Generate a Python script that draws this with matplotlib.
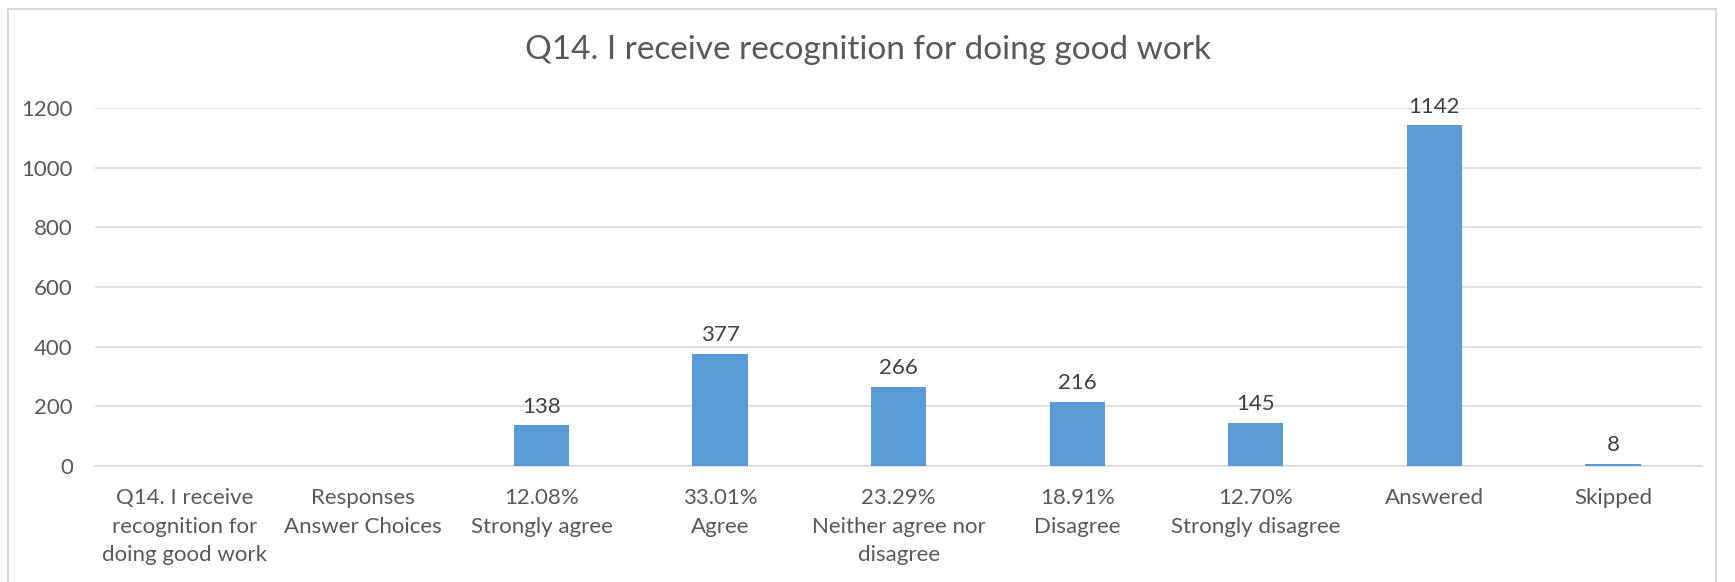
import matplotlib.pyplot as plt
from matplotlib.patches import Rectangle

# Survey results for Q14
title = "Q14. I receive recognition for doing good work"
tick_labels = [
    "Q14. I receive\nrecognition for\ndoing good work",
    "Responses\nAnswer Choices",
    "12.08%\nStrongly agree",
    "33.01%\nAgree",
    "23.29%\nNeither agree nor\ndisagree",
    "18.91%\nDisagree",
    "12.70%\nStrongly disagree",
    "Answered",
    "Skipped",
]
counts = [None, None, 138, 377, 266, 216, 145, 1142, 8]
y_ticks = [0, 200, 400, 600, 800, 1000, 1200]

bar_color = "#5B9BD5"
grid_color = "#D9D9D9"
text_color = "#595959"
label_color = "#404040"

plt.rcParams["font.family"] = ["Lato", "DejaVu Sans"]

fig = plt.figure(figsize=(17.35, 5.82), dpi=100)
ax = fig.add_axes([0.0548, 0.1993, 0.9263, 0.6151])

xs = list(range(len(tick_labels)))
for x, c in zip(xs, counts):
    if c is None:
        continue
    ax.bar(x, c, width=0.31, color=bar_color, zorder=3)
    ax.annotate(str(c), (x, c), xytext=(0, 6), textcoords="offset points",
                ha="center", va="bottom", fontsize=16, color=label_color,
                annotation_clip=False)

ax.set_xlim(-0.5, len(tick_labels) - 0.5)
ax.set_ylim(0, 1200)
ax.set_yticks(y_ticks)
ax.set_yticklabels([str(t) for t in y_ticks])
ax.set_xticks(xs)
ax.set_xticklabels(tick_labels, linespacing=1.52)

ax.yaxis.grid(True, color=grid_color, linewidth=1.1, zorder=0)
for s in ["top", "right", "left"]:
    ax.spines[s].set_visible(False)
ax.spines["bottom"].set_color(grid_color)
ax.spines["bottom"].set_linewidth(1.1)
ax.tick_params(axis="both", length=0, labelsize=16, colors=text_color)
ax.tick_params(axis="y", pad=16)
ax.tick_params(axis="x", pad=16)

fig.text(0.5, 0.914, title, ha="center", va="center", fontsize=24, color=text_color)

# Chart area border
fig.patches.append(Rectangle((8 / 1735, -0.05), 1708 / 1735, 1 - 9 / 582 + 0.05,
                             transform=fig.transFigure, fill=False,
                             edgecolor=grid_color, linewidth=1.5))

fig.savefig("out.png", dpi=100)
